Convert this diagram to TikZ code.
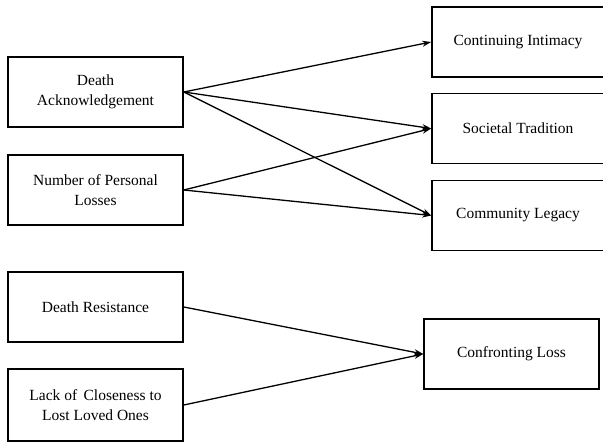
\documentclass[tikz,border=0pt]{standalone}
\usepackage{fontspec}
\setmainfont{Liberation Serif}
\usetikzlibrary{arrows.meta}
\begin{document}
\begin{tikzpicture}[x=1pt,y=-1pt,
  boxnode/.style={draw=black,line width=1.6pt,rectangle,align=center,inner sep=0pt,
    font=\fontsize{15.5}{20}\selectfont,minimum height=70pt},
  leftbox/.style={boxnode,minimum width=175pt},
  rightbox/.style={boxnode,minimum width=172pt},
  conn/.style={draw=black,line width=1.3pt,-{Stealth[length=9pt,width=6pt]}}]
\useasboundingbox (0,0) rectangle (603,443);
\node[leftbox] (da) at (95.5,92) {Death\\Acknowledgement};
\node[leftbox] (np) at (95.5,190) {Number of Personal\\Losses};
\node[leftbox] (dr) at (95.5,307) {Death Resistance};
\node[leftbox,minimum height=72pt] (lc) at (95.5,405) {Lack of\, Closeness to\\Lost Loved Ones};
\node[rightbox] (ci) at (518,42) {Continuing Intimacy};
\node[rightbox] (st) at (518,128.5) {Societal Tradition};
\node[rightbox] (cl) at (518,215.5) {Community Legacy};
\node[boxnode,minimum width=175pt] (cf) at (511.5,354) {Confronting Loss};
\draw[conn] (da.east) -- (ci.west);
\draw[conn] (da.east) -- (st.west);
\draw[conn] (da.east) -- (cl.west);
\draw[conn] (np.east) -- (st.west);
\draw[conn] (np.east) -- (cl.west);
\draw[conn] (dr.east) -- (cf.west);
\draw[conn] (lc.east) -- (cf.west);
\end{tikzpicture}
\end{document}
